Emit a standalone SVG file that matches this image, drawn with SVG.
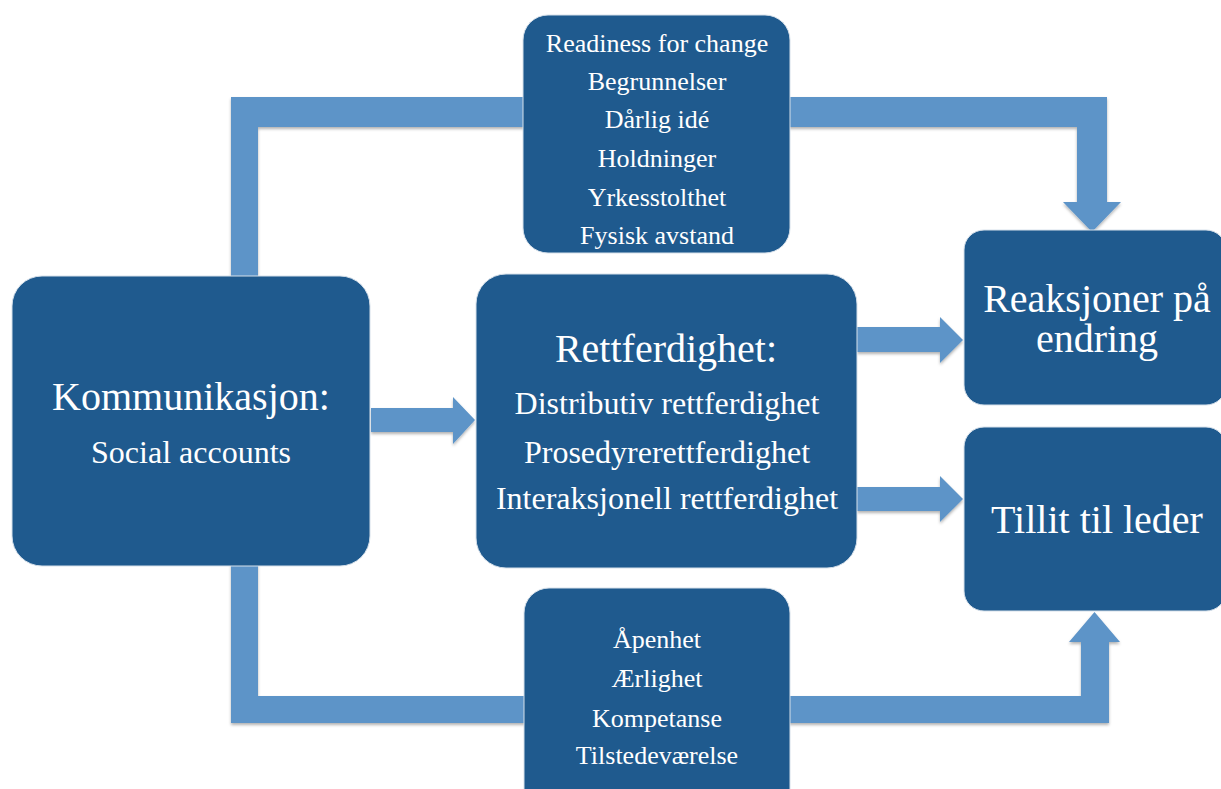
<svg xmlns="http://www.w3.org/2000/svg" width="1221" height="789" viewBox="0 0 1221 789">
<defs>
<style>
.box{fill:#1F5A8E;stroke:#d6e0ea;stroke-width:1}
.conn{fill:#5D94C8;filter:url(#sh)}
text{font-family:"Liberation Serif","Times New Roman",serif;fill:#ffffff;text-anchor:middle}
.s25{font-size:26px}
.s31{font-size:32px}
.s39{font-size:40px}
</style>
<filter id="sh" x="-5%" y="-5%" width="110%" height="115%">
<feDropShadow dx="0" dy="2" stdDeviation="1.5" flood-color="#000" flood-opacity="0.3"/>
</filter>
</defs>
<rect width="1221" height="789" fill="#ffffff"/>
<g id="connectors">
<path class="conn" d="M231,290 L231,97 L1107,97 L1107,202 L1121,202 L1092,232 L1063,202 L1077,202 L1077,127 L258,127 L258,290 Z"/>
<path class="conn" d="M231,550 L231,723 L1109,723 L1109,642 L1120,642 L1094.5,612 L1069,642 L1081,642 L1081,696 L258,696 L258,550 Z"/>
<path class="conn" d="M371,408 L453,408 L453,397 L475,420 L453,444 L453,432 L371,432 Z"/>
<path class="conn" d="M857,327 L940,327 L940,317 L963,340 L940,363 L940,352 L857,352 Z"/>
<path class="conn" d="M857,487 L940,487 L940,476 L963,499 L940,522 L940,511 L857,511 Z"/>
</g>
<g id="node-top">
<rect class="box" x="523" y="15" width="267" height="238" rx="25"/>
<text class="s25" x="657" y="52">Readiness for change</text>
<text class="s25" x="657" y="90">Begrunnelser</text>
<text class="s25" x="657" y="128">Dårlig idé</text>
<text class="s25" x="657" y="167">Holdninger</text>
<text class="s25" x="657" y="206">Yrkesstolthet</text>
<text class="s25" x="657" y="244">Fysisk avstand</text>
</g>
<g id="node-kommunikasjon">
<rect class="box" x="12" y="276" width="358" height="290" rx="30"/>
<text class="s39" x="191" y="410">Kommunikasjon:</text>
<text class="s31" x="191" y="463">Social accounts</text>
</g>
<g id="node-rettferdighet">
<rect class="box" x="476" y="274" width="381" height="294" rx="30"/>
<text class="s39" x="666" y="362">Rettferdighet:</text>
<text class="s31" x="667" y="414">Distributiv rettferdighet</text>
<text class="s31" x="667" y="463">Prosedyrerettferdighet</text>
<text class="s31" x="667" y="509">Interaksjonell rettferdighet</text>
</g>
<g id="node-reaksjoner">
<rect class="box" x="964" y="230" width="262" height="175" rx="20"/>
<text class="s39" x="1097" y="312">Reaksjoner på</text>
<text class="s39" x="1097" y="352">endring</text>
</g>
<g id="node-tillit">
<rect class="box" x="964" y="427" width="262" height="184" rx="20"/>
<text class="s39" x="1097" y="533">Tillit til leder</text>
</g>
<g id="node-bottom">
<rect class="box" x="524" y="588" width="266" height="230" rx="25"/>
<text class="s25" x="657" y="648">Åpenhet</text>
<text class="s25" x="657" y="687">Ærlighet</text>
<text class="s25" x="657" y="727">Kompetanse</text>
<text class="s25" x="657" y="764">Tilstedeværelse</text>
</g>
</svg>
